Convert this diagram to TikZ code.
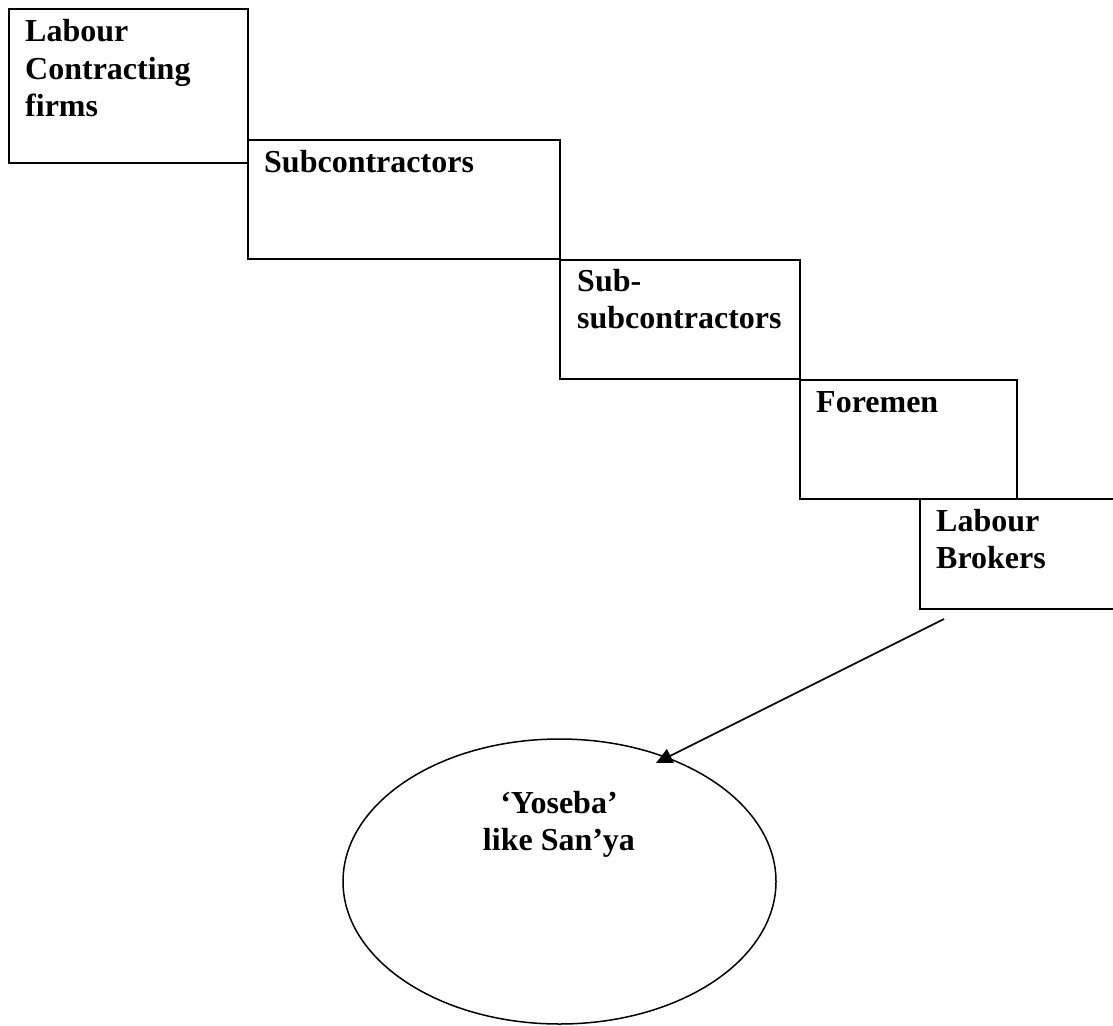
\documentclass[tikz,border=0pt]{standalone}
\usepackage{fontspec}
\setmainfont{Liberation Serif}
\usetikzlibrary{arrows.meta,shapes.geometric}
\begin{document}
\begin{tikzpicture}[x=1pt,y=-1pt,
  stepbox/.style={draw=black,line width=1.9pt,rectangle,inner sep=0pt,anchor=north west},
  lbl/.style={inner sep=0pt,anchor=base west,align=left,font=\fontsize{32}{37}\selectfont\bfseries},
  clbl/.style={inner sep=0pt,anchor=base,align=center,font=\fontsize{32}{37}\selectfont\bfseries},
  conn/.style={line width=1.6pt,-{Triangle[length=16pt,width=15pt]}}]
\useasboundingbox (0,0) rectangle (1113,1025);
\clip (0,0) rectangle (1113,1025);
% boxes
\node[stepbox,minimum width=239pt,minimum height=154pt] (b1) at (8,8) {};
\node[stepbox,minimum width=312pt,minimum height=119pt] (b2) at (247,139) {};
\node[stepbox,minimum width=240pt,minimum height=119pt] (b3) at (559,259) {};
\node[stepbox,minimum width=217pt,minimum height=119pt] (b4) at (799,379) {};
\node[stepbox,minimum width=220pt,minimum height=110pt] (b5) at (919,498) {};
% labels (anchor on the baseline of the last line)
\node[lbl] (t1) at (25,116) {Labour\\Contracting\\firms};
\node[lbl] (t2) at (264,172) {Subcontractors};
\node[lbl] (t3) at (577,328) {Sub-\\subcontractors};
\node[lbl] (t4) at (816,412) {Foremen};
\node[lbl] (t5) at (936,568) {Labour\\Brokers};
% ellipse
\node[draw=black,line width=1.5pt,ellipse,minimum width=433pt,minimum height=285pt,inner sep=0pt] (e) at (559.5,881.5) {};
\node[clbl] (t6) at (559,850) {‘Yoseba’\\like San’ya};
% connector
\coordinate (s) at (944,619);
\coordinate (tip) at (656,763);
\draw[conn] (s) -- (tip);
\end{tikzpicture}
\end{document}
